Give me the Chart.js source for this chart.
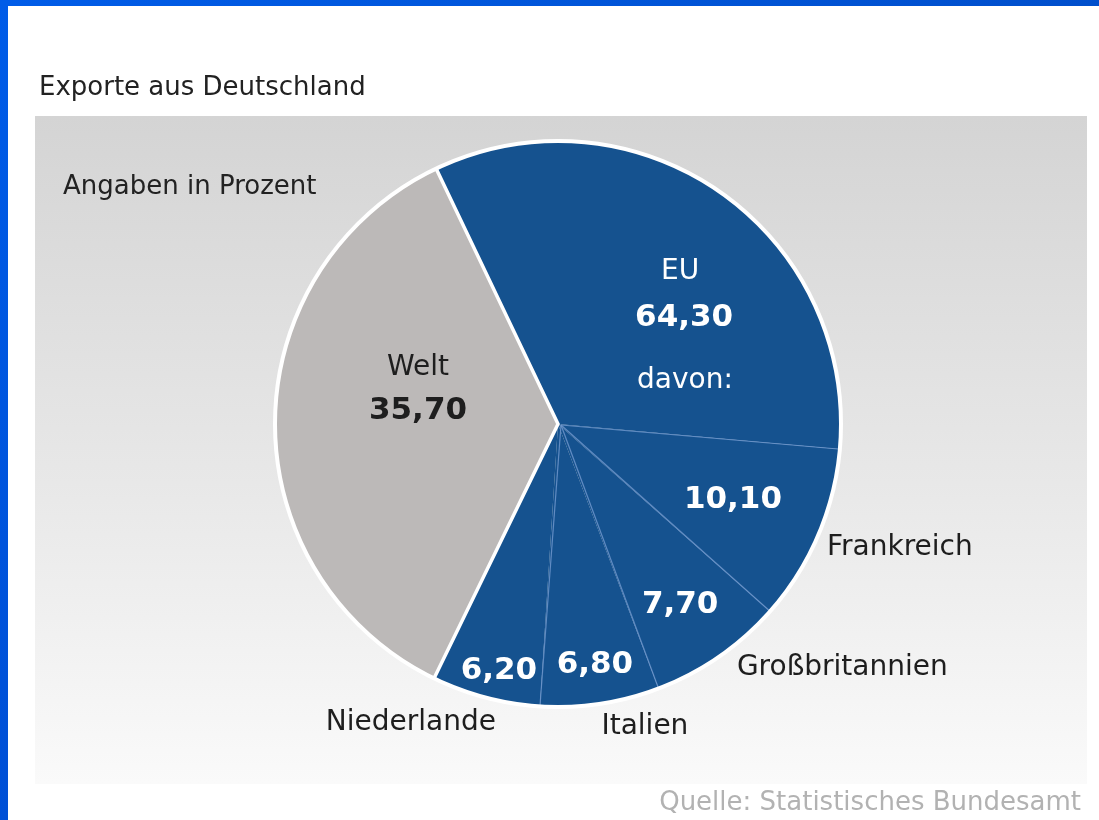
<!DOCTYPE html>
<html>
<head>
<meta charset="utf-8">
<script src="https://cdn.jsdelivr.net/npm/chart.js@4.4.0/dist/chart.umd.min.js"></script>
<style>
html,body{margin:0;padding:0;background:#fff;overflow:hidden;}
#wrap{position:relative;width:1099px;height:820px;}
canvas{display:block;}
</style>
</head>
<body>
<div id="wrap"><canvas id="c" width="1099" height="820"></canvas></div>
<script>
// ---- data ----
const categories = ['EU (übrige)', 'Frankreich', 'Großbritannien', 'Italien', 'Niederlande', 'Welt'];
const values = [33.5, 10.1, 7.7, 6.8, 6.2, 35.7];
const euTotal = 64.3;
const sliceColors = ['#15528f', '#15528f', '#15528f', '#15528f', '#15528f', '#bcb9b8'];

const titleText = 'Exporte aus Deutschland';
const subtitleText = 'Angaben in Prozent';
const sourceText = 'Quelle: Statistisches Bundesamt';

const fmt = v => v.toFixed(2).replace('.', ',');
const FONT = '"DejaVu Sans", Verdana, sans-serif';

const backgroundPlugin = {
  id: 'bg',
  beforeDraw(chart) {
    const ctx = chart.ctx;
    ctx.save();
    ctx.fillStyle = '#ffffff';
    ctx.fillRect(0, 0, chart.width, chart.height);
    // grey panel
    const g = ctx.createLinearGradient(0, 116, 0, 784);
    g.addColorStop(0, '#d4d4d4');
    g.addColorStop(0.55, '#e8e8e8');
    g.addColorStop(1, '#fafafa');
    ctx.fillStyle = g;
    ctx.fillRect(35, 116, 1052, 668);
    // blue frame
    const gl = ctx.createLinearGradient(0, 0, 0, chart.height);
    gl.addColorStop(0, '#005ce8');
    gl.addColorStop(1, '#0050d6');
    ctx.fillStyle = gl;
    ctx.fillRect(0, 0, 8, chart.height);
    const gt = ctx.createLinearGradient(0, 0, chart.width, 0);
    gt.addColorStop(0, '#005ce8');
    gt.addColorStop(1, '#004fcc');
    ctx.fillStyle = gt;
    ctx.fillRect(0, 0, chart.width, 6);
    // texts
    ctx.fillStyle = '#222222';
    ctx.textBaseline = 'middle';
    ctx.textAlign = 'left';
    ctx.font = '26px ' + FONT;
    ctx.fillText(titleText, 39, 88);
    ctx.fillText(subtitleText, 63, 187);
    ctx.fillStyle = '#b2b2b2';
    ctx.textAlign = 'right';
    ctx.fillText(sourceText, 1081, 803);
    ctx.restore();
  }
};

const overlayPlugin = {
  id: 'overlay',
  afterDatasetsDraw(chart) {
    const ctx = chart.ctx;
    const arcs = chart.getDatasetMeta(0).data;
    const a0 = arcs[0];
    const cx = a0.x, cy = a0.y, R = a0.outerRadius;
    ctx.save();
    // thin separators inside EU
    ctx.strokeStyle = 'rgba(110,150,205,0.85)';
    ctx.lineWidth = 1.2;
    for (let i = 1; i <= 4; i++) {
      const ang = arcs[i].startAngle;
      ctx.beginPath();
      ctx.moveTo(cx + 3, cy + 1);
      ctx.lineTo(cx + Math.cos(ang) * R, cy + Math.sin(ang) * R);
      ctx.stroke();
    }
    // white separators Welt / EU
    ctx.strokeStyle = '#ffffff';
    ctx.lineWidth = 3.5;
    ctx.lineJoin = 'miter';
    const w = arcs[5];
    ctx.beginPath();
    ctx.moveTo(cx + Math.cos(w.startAngle) * R, cy + Math.sin(w.startAngle) * R);
    ctx.lineTo(cx, cy);
    ctx.lineTo(cx + Math.cos(w.endAngle) * R, cy + Math.sin(w.endAngle) * R);
    ctx.stroke();
    // outer white ring
    ctx.lineWidth = 4;
    ctx.beginPath();
    ctx.arc(cx, cy, R - 1, 0, Math.PI * 2);
    ctx.stroke();

    // labels
    const put = (txt, fx, fy, font, color, align) => {
      ctx.font = font;
      ctx.fillStyle = color;
      ctx.textAlign = align || 'center';
      ctx.textBaseline = 'middle';
      ctx.fillText(txt, cx + fx * R, cy + fy * R);
    };
    const N = '28px ' + FONT;
    const B = 'bold 31px ' + FONT;
    const dark = '#1e1e1e';
    put('Welt', -0.493, -0.197, N, dark);
    put(fmt(values[5]), -0.493, -0.046, B, dark);
    put('EU', 0.43, -0.535, N, '#ffffff');
    put(fmt(euTotal), 0.444, -0.373, B, '#ffffff');
    put('davon:', 0.447, -0.151, N, '#ffffff');
    put(fmt(values[1]), 0.616, 0.268, B, '#ffffff');
    put(categories[1], 0.947, 0.437, N, dark, 'left');
    put(fmt(values[2]), 0.43, 0.637, B, '#ffffff');
    put(categories[2], 0.63, 0.859, N, dark, 'left');
    put(fmt(values[3]), 0.13, 0.849, B, '#ffffff');
    put(categories[3], 0.306, 1.067, N, dark);
    put(fmt(values[4]), -0.208, 0.87, B, '#ffffff');
    put(categories[4], -0.518, 1.053, N, dark);
    ctx.restore();
  }
};

new Chart(document.getElementById('c'), {
  type: 'pie',
  data: {
    labels: categories,
    datasets: [{
      data: values,
      backgroundColor: sliceColors,
      borderWidth: 0
    }]
  },
  options: {
    responsive: false,
    animation: false,
    rotation: -25.5,
    layout: { padding: { left: 274, right: 257, top: 140, bottom: 112 } },
    plugins: {
      legend: { display: false },
      tooltip: { enabled: false },
      title: { display: false }
    }
  },
  plugins: [backgroundPlugin, overlayPlugin]
});
</script>
</body>
</html>
